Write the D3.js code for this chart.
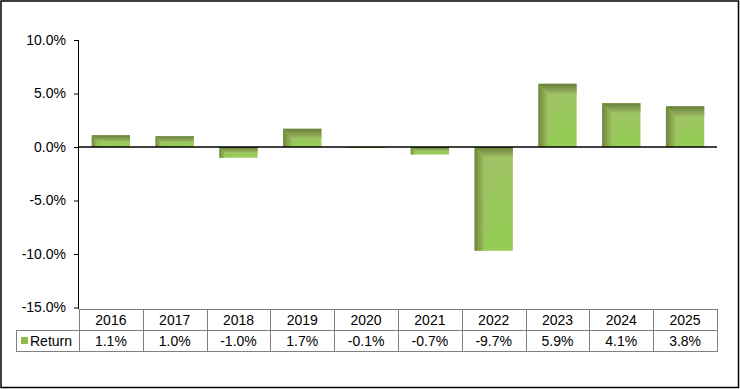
<!DOCTYPE html>
<html>
<head>
<meta charset="utf-8">
<script src="https://cdn.jsdelivr.net/npm/d3@7"></script>
<style>
  html, body { margin: 0; padding: 0; background: #fff; }
  svg { display: block; font-family: "Liberation Sans", Arial, sans-serif; }
</style>
</head>
<body>
<div id="chart"></div>
<script>
// data
const years = ['2016', '2017', '2018', '2019', '2020', '2021', '2022', '2023', '2024', '2025'];
const returns = [1.1, 1.0, -1.0, 1.7, -0.1, -0.7, -9.7, 5.9, 4.1, 3.8];
const seriesName = 'Return';
const yTicks = [10, 5, 0, -5, -10, -15];

const W = 740, H = 389;
const plot = { left: 79, right: 717, top: 40, bottom: 307.5 };

const svg = d3.select('#chart').append('svg')
  .attr('width', W)
  .attr('height', H);

// outer frame
svg.append('rect')
  .attr('x', 1).attr('y', 1)
  .attr('width', W - 2.5).attr('height', H - 2.5)
  .attr('fill', '#fff')
  .attr('stroke', '#000')
  .attr('stroke-width', 1.5);

const x = d3.scaleBand()
  .domain(years)
  .range([plot.left, plot.right])
  .paddingInner(0.4)
  .paddingOuter(0.2);

const xCol = d3.scaleBand()
  .domain(years)
  .range([plot.left, plot.right]);

const y = d3.scaleLinear()
  .domain([-15, 10])
  .range([plot.bottom, plot.top]);

// gradients
const defs = svg.append('defs');
const faceGrad = defs.append('linearGradient').attr('id', 'face')
  .attr('x1', 0).attr('y1', 0).attr('x2', 0.3).attr('y2', 1);
faceGrad.append('stop').attr('offset', '0%').attr('stop-color', '#a4bf6a');
faceGrad.append('stop').attr('offset', '100%').attr('stop-color', '#94cc56');

const leftGrad = defs.append('linearGradient').attr('id', 'leftBevel')
  .attr('x1', 0).attr('y1', 0).attr('x2', 1).attr('y2', 0);
leftGrad.append('stop').attr('offset', '0%').attr('stop-color', '#6a8838');
leftGrad.append('stop').attr('offset', '100%').attr('stop-color', '#9fbf62');

const topGrad = defs.append('linearGradient').attr('id', 'topBevel')
  .attr('x1', 0).attr('y1', 0).attr('x2', 0).attr('y2', 1);
topGrad.append('stop').attr('offset', '0%').attr('stop-color', '#66803a');
topGrad.append('stop').attr('offset', '100%').attr('stop-color', '#9db862');

// y axis
const yAxis = svg.append('g')
  .attr('transform', `translate(${plot.left},0)`)
  .call(d3.axisLeft(y).tickValues(yTicks).tickSize(5).tickPadding(8)
    .tickFormat(d => d.toFixed(1) + '%'));
yAxis.select('.domain').attr('stroke', '#000').attr('d', `M-0.5,${plot.top}V309`);
yAxis.selectAll('.tick line').attr('stroke', '#000');
yAxis.selectAll('.tick text')
  .attr('fill', '#000')
  .style('font-size', '14px')
  .style('font-family', '"Liberation Sans", Arial, sans-serif');

// bars
const bars = svg.append('g').selectAll('g.bar')
  .data(years.map((yr, i) => ({ year: yr, value: returns[i] })))
  .enter().append('g').attr('class', 'bar');

bars.each(function (d) {
  const g = d3.select(this);
  const x0 = x(d.year), bw = x.bandwidth();
  const y0 = Math.min(y(d.value), y(0)), h = Math.abs(y(d.value) - y(0));
  const b = Math.min(10, h / 2, bw / 4);
  g.append('rect')
    .attr('x', x0).attr('y', y0)
    .attr('width', bw).attr('height', h)
    .attr('fill', 'url(#face)');
  // left bevel
  g.append('path')
    .attr('d', `M${x0},${y0}L${x0 + b},${y0 + b}L${x0 + b},${y0 + h}L${x0},${y0 + h}Z`)
    .attr('fill', 'url(#leftBevel)');
  // top bevel
  g.append('path')
    .attr('d', `M${x0},${y0}L${x0 + bw},${y0}L${x0 + bw},${y0 + b}L${x0 + b},${y0 + b}Z`)
    .attr('fill', 'url(#topBevel)');
});

// zero line
svg.append('line')
  .attr('x1', plot.left).attr('x2', plot.right)
  .attr('y1', y(0)).attr('y2', y(0))
  .attr('stroke', '#000')
  .attr('stroke-width', 1.5);

// data table
const rowTop = 309, rowH = 21, tableLeft = 16;
const table = svg.append('g');
const grid = '#808080';

table.append('line')
  .attr('x1', plot.left).attr('x2', plot.right)
  .attr('y1', rowTop + 0.5).attr('y2', rowTop + 0.5)
  .attr('stroke', grid);
table.append('line')
  .attr('x1', tableLeft).attr('x2', plot.right)
  .attr('y1', rowTop + rowH + 0.5).attr('y2', rowTop + rowH + 0.5)
  .attr('stroke', grid);
table.append('line')
  .attr('x1', tableLeft).attr('x2', plot.right)
  .attr('y1', rowTop + 2 * rowH + 0.5).attr('y2', rowTop + 2 * rowH + 0.5)
  .attr('stroke', grid);

// vertical lines
const vx = years.map(yr => xCol(yr)).concat([plot.right]);
table.selectAll('line.v')
  .data(vx)
  .enter().append('line')
  .attr('class', 'v')
  .attr('x1', d => Math.round(d) + 0.5).attr('x2', d => Math.round(d) + 0.5)
  .attr('y1', rowTop).attr('y2', rowTop + 2 * rowH + 1)
  .attr('stroke', grid);
table.append('line')
  .attr('x1', tableLeft + 0.5).attr('x2', tableLeft + 0.5)
  .attr('y1', rowTop + rowH).attr('y2', rowTop + 2 * rowH + 1)
  .attr('stroke', grid);

table.selectAll('text.year')
  .data(years)
  .enter().append('text')
  .attr('class', 'year')
  .attr('x', d => xCol(d) + xCol.bandwidth() / 2)
  .attr('y', rowTop + 16)
  .attr('text-anchor', 'middle')
  .style('font-size', '14px')
  .text(d => d);

table.selectAll('text.val')
  .data(returns)
  .enter().append('text')
  .attr('class', 'val')
  .attr('x', (d, i) => xCol(years[i]) + xCol.bandwidth() / 2)
  .attr('y', rowTop + rowH + 16)
  .attr('text-anchor', 'middle')
  .style('font-size', '14px')
  .text(d => d.toFixed(1) + '%');

// legend key in table
table.append('rect')
  .attr('x', 21).attr('y', rowTop + rowH + 7)
  .attr('width', 7).attr('height', 7)
  .attr('fill', '#8fb84e');
table.append('text')
  .attr('x', 30).attr('y', rowTop + rowH + 16)
  .style('font-size', '14px')
  .text(seriesName);
</script>
</body>
</html>
